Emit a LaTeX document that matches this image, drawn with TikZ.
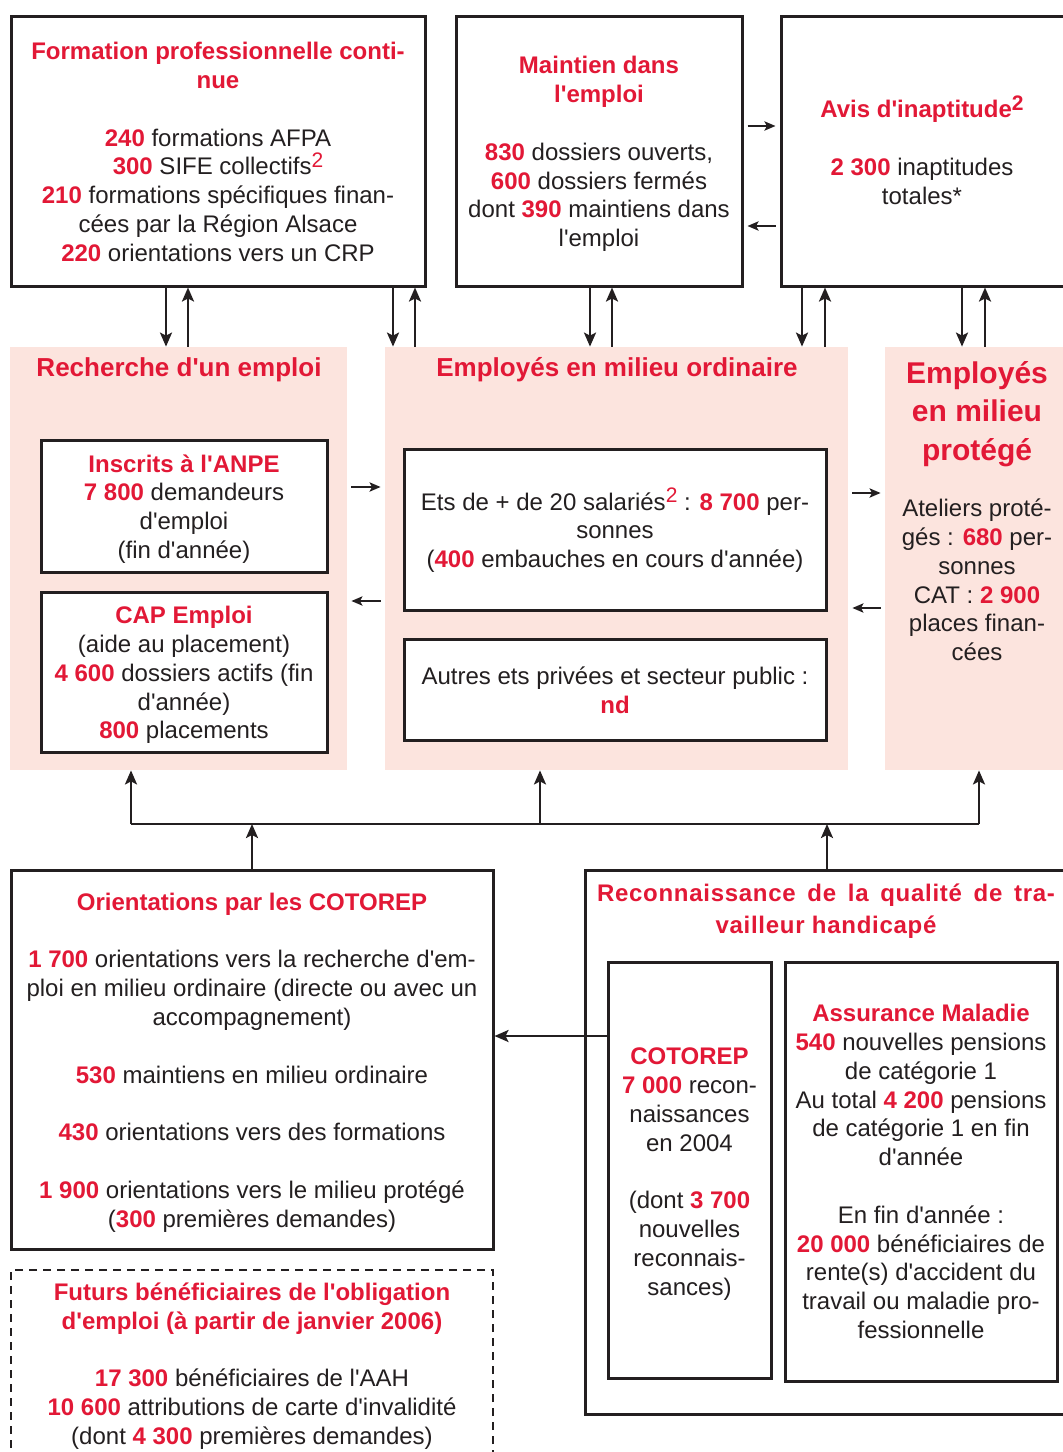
\documentclass[tikz,border=0pt]{standalone}
\usepackage{fontspec}
\setmainfont{Liberation Sans}[Ligatures=TeXOff]
\newfontfamily\espace{Liberation Sans}[LetterSpace=3,Ligatures=TeXOff]
\usetikzlibrary{arrows.meta,fit}
\definecolor{rougeacc}{RGB}{226,24,54}
\definecolor{roseclair}{RGB}{252,228,222}
\definecolor{encre}{RGB}{35,31,32}
\newcommand\corps{\fontsize{12}{14.4}\selectfont}
\newcommand\chiffre[1]{\textbf{\textcolor{rougeacc}{#1}}}
\newcommand\intitule[1]{\textbf{\textcolor{rougeacc}{#1}}}
\newcommand\exposant[1]{\raisebox{3.6pt}{\textcolor{rougeacc}{\fontsize{10.5}{10.5}\selectfont #1}}}
\tikzset{
  boite/.style={draw=encre,line width=1.5pt,fill=white,inner sep=0pt},
  panneau/.style={fill=roseclair,inner sep=0pt},
  texte/.style={inner sep=0pt,align=center,text=encre,font=\corps},
  fleche/.style={-{Stealth[length=7pt,width=6pt,inset=1.5pt]},line width=1.2pt,draw=encre},
  petitefleche/.style={-{Stealth[length=5.5pt,width=4.6pt,inset=1.2pt]},line width=1.2pt,draw=encre,shorten <=2pt,shorten >=2pt},
  trait/.style={line width=1.2pt,draw=encre}
}

\begin{document}
\begin{tikzpicture}[
  x=0.5pt,y=-0.5pt,
  titrepan/.style={
    inner sep=0pt,
    text=rougeacc,
    font=\bfseries\fontsize{13}{15.6}\selectfont
  },
  titreprot/.style={
    inner sep=0pt,
    align=center,
    text=rougeacc,
    font=\bfseries\fontsize{15}{19.25}\selectfont
  },
  titrereco/.style={
    inner sep=0pt,
    align=center,
    text=rougeacc,
    font=\espace\bfseries\fontsize{12}{16}\selectfont
  },
  pointille/.style={
    draw=encre,
    line width=1.2pt,
    dash pattern=on 4pt off 3pt,
    inner sep=0pt
  }
]

\useasboundingbox (0,0) rectangle (1063,1452);

\node[boite,fit={(11,16) (425,286)}] (formation) {};
\node[texte] (tformation) at ([yshift=-0.5pt]formation.center) {%
  \intitule{Formation professionnelle conti-}\\
  \intitule{nue}\\[14.4pt]
  \chiffre{240} formations AFPA\\
  \chiffre{300} SIFE collectifs\exposant{2}\\
  \chiffre{210} formations spécifiques finan-\\
  cées par la Région Alsace\\
  \chiffre{220} orientations vers un CRP};

\node[boite,fit={(456,16) (742,286)}] (maintien) {};
\node[texte] (tmaintien) at ([yshift=-1.5pt]maintien.center) {%
  \intitule{Maintien dans}\\
  \intitule{l'emploi}\\[14.4pt]
  \chiffre{830} dossiers ouverts,\\
  \chiffre{600} dossiers fermés\\
  dont \chiffre{390} maintiens dans\\
  l'emploi};

\node[boite,fit={(781,16) (1066,286)}] (avis) {};
\node[texte] (tavis) at (922,150) {%
  \intitule{Avis d'inaptitude\exposant{\bfseries 2}}\\[14.4pt]
  \chiffre{2 300} inaptitudes\\
  totales*};

\node[panneau,fit={(10,347) (347,770)}] (recherche) {};
\node[panneau,fit={(385,347) (848,770)}] (ordinaire) {};
\node[panneau,fit={(885,347) (1069,770)}] (protege) {};

\node[titrepan] (trech) at (179,370) {Recherche d'un emploi};
\node[titrepan] (tord) at (617,370) {Employés en milieu ordinaire};
\node[titreprot] (tprot) at (977,414) {Employés\\en milieu\\protégé};

\node[texte] (cprot) at (977,580) {%
  Ateliers proté-\\
  gés : \chiffre{680} per-\\
  sonnes\\
  CAT : \chiffre{2 900}\\
  places finan-\\
  cées};

\node[boite,fit={(41,440) (327,572)}] (anpe) {};
\node[texte] (tanpe) at ([yshift=-1.5pt]anpe.center) {%
  \intitule{Inscrits à l'ANPE}\\
  \chiffre{7 800} demandeurs\\
  d'emploi\\
  (fin d'année)};

\node[boite,fit={(41,592) (327,752)}] (capemploi) {};
\node[texte] (tcapemploi) at ([yshift=-1.5pt]capemploi.center) {%
  \intitule{CAP Emploi}\\
  (aide au placement)\\
  \chiffre{4 600} dossiers actifs (fin\\
  d'année)\\
  \chiffre{800} placements};

\node[boite,fit={(404,449) (826,610)}] (ets) {};
\node[texte] (tets) at ([yshift=-0.5pt]ets.center) {%
  Ets de + de 20 salariés\exposant{2} : \chiffre{8 700} per-\\
  sonnes\\
  (\chiffre{400} embauches en cours d'année)};

\node[boite,fit={(404,639) (826,740)}] (autres) {};
\node[texte] (tautres) at ([yshift=-0.5pt]autres.center) {%
  Autres ets privées et secteur public :\\
  \chiffre{nd}};

\node[boite,fit={(11,870) (493,1249)}] (orient) {};
\node[texte] (torient) at ([yshift=-1.5pt]orient.center) {%
  \intitule{Orientations par les COTOREP}\\[14.4pt]
  \chiffre{1 700} orientations vers la recherche d'em-\\
  ploi en milieu ordinaire (directe ou avec un\\
  accompagnement)\\[14.4pt]
  \chiffre{530} maintiens en milieu ordinaire\\[14.4pt]
  \chiffre{430} orientations vers des formations\\[14.4pt]
  \chiffre{1 900} orientations vers le milieu protégé\\
  (\chiffre{300} premières demandes)};

\node[boite,fit={(585,870) (1069,1414)}] (reco) {};
\node[titrereco] (treco) at (826,911) {%
  \makebox[229pt][s]{Reconnaissance de la qualité de tra-}\\
  vailleur handicapé};

\node[boite,fit={(608,962) (771,1378)}] (cotorep) {};
\node[texte] (tcotorep) at ([yshift=-2pt]cotorep.center) {%
  \intitule{COTOREP}\\
  \chiffre{7 000} recon-\\
  naissances\\
  en 2004\\[14.4pt]
  (dont \chiffre{3 700}\\
  nouvelles\\
  reconnais-\\
  sances)};

\node[boite,fit={(785,962) (1057,1381)}] (assurance) {};
\node[texte] (tassurance) at (assurance.center) {%
  \intitule{Assurance Maladie}\\
  \chiffre{540} nouvelles pensions\\
  de catégorie 1\\
  Au total \chiffre{4 200} pensions\\
  de catégorie 1 en fin\\
  d'année\\[14.4pt]
  En fin d'année :\\
  \chiffre{20 000} bénéficiaires de\\
  rente(s) d'accident du\\
  travail ou maladie pro-\\
  fessionnelle};

\node[pointille,fit={(11,1270) (493,1480)}] (futurs) {};
\node[texte] (tfuturs) at (252,1366) {%
  \intitule{Futurs bénéficiaires de l'obligation}\\
  \intitule{d'emploi (à partir de janvier 2006)}\\[14.4pt]
  \chiffre{17 300} bénéficiaires de l'AAH\\
  \chiffre{10 600} attributions de carte d'invalidité\\
  (dont \chiffre{4 300} premières demandes)};

\draw[fleche] (166,0 |- formation.south) -- (166,0 |- recherche.north);
\draw[fleche] (188,0 |- recherche.north) -- (188,0 |- formation.south);
\draw[fleche] (393,0 |- formation.south) -- (393,0 |- ordinaire.north);
\draw[fleche] (415,0 |- ordinaire.north) -- (415,0 |- formation.south);
\draw[fleche] (590,0 |- maintien.south) -- (590,0 |- ordinaire.north);
\draw[fleche] (612,0 |- ordinaire.north) -- (612,0 |- maintien.south);
\draw[fleche] (802,0 |- avis.south) -- (802,0 |- ordinaire.north);
\draw[fleche] (825,0 |- ordinaire.north) -- (825,0 |- avis.south);
\draw[fleche] (962,0 |- avis.south) -- (962,0 |- protege.north);
\draw[fleche] (985,0 |- protege.north) -- (985,0 |- avis.south);

\draw[petitefleche] (maintien.east |- 0,126) -- (avis.west |- 0,126);
\draw[petitefleche] (avis.west |- 0,226) -- (maintien.east |- 0,226);
\draw[petitefleche] (recherche.east |- 0,487) -- (ordinaire.west |- 0,487);
\draw[petitefleche] (ordinaire.west |- 0,601) -- (recherche.east |- 0,601);
\draw[petitefleche] (ordinaire.east |- 0,493) -- (protege.west |- 0,493);
\draw[petitefleche] (protege.west |- 0,608) -- (ordinaire.east |- 0,608);

\coordinate (busg) at (131,824);
\coordinate (busm) at (540,824);
\coordinate (busd) at (979,824);
\draw[trait] (busg) -- (busd);
\draw[fleche] (busg) -- (busg |- recherche.south);
\draw[fleche] (busm) -- (busm |- ordinaire.south);
\draw[fleche] (busd) -- (busd |- protege.south);
\draw[fleche] (orient.north) -- (orient.north |- busg);
\draw[fleche] (reco.north) -- (reco.north |- busg);

\draw[fleche] (cotorep.west |- 0,1036) -- (orient.east |- 0,1036);

\end{tikzpicture}
\end{document}
